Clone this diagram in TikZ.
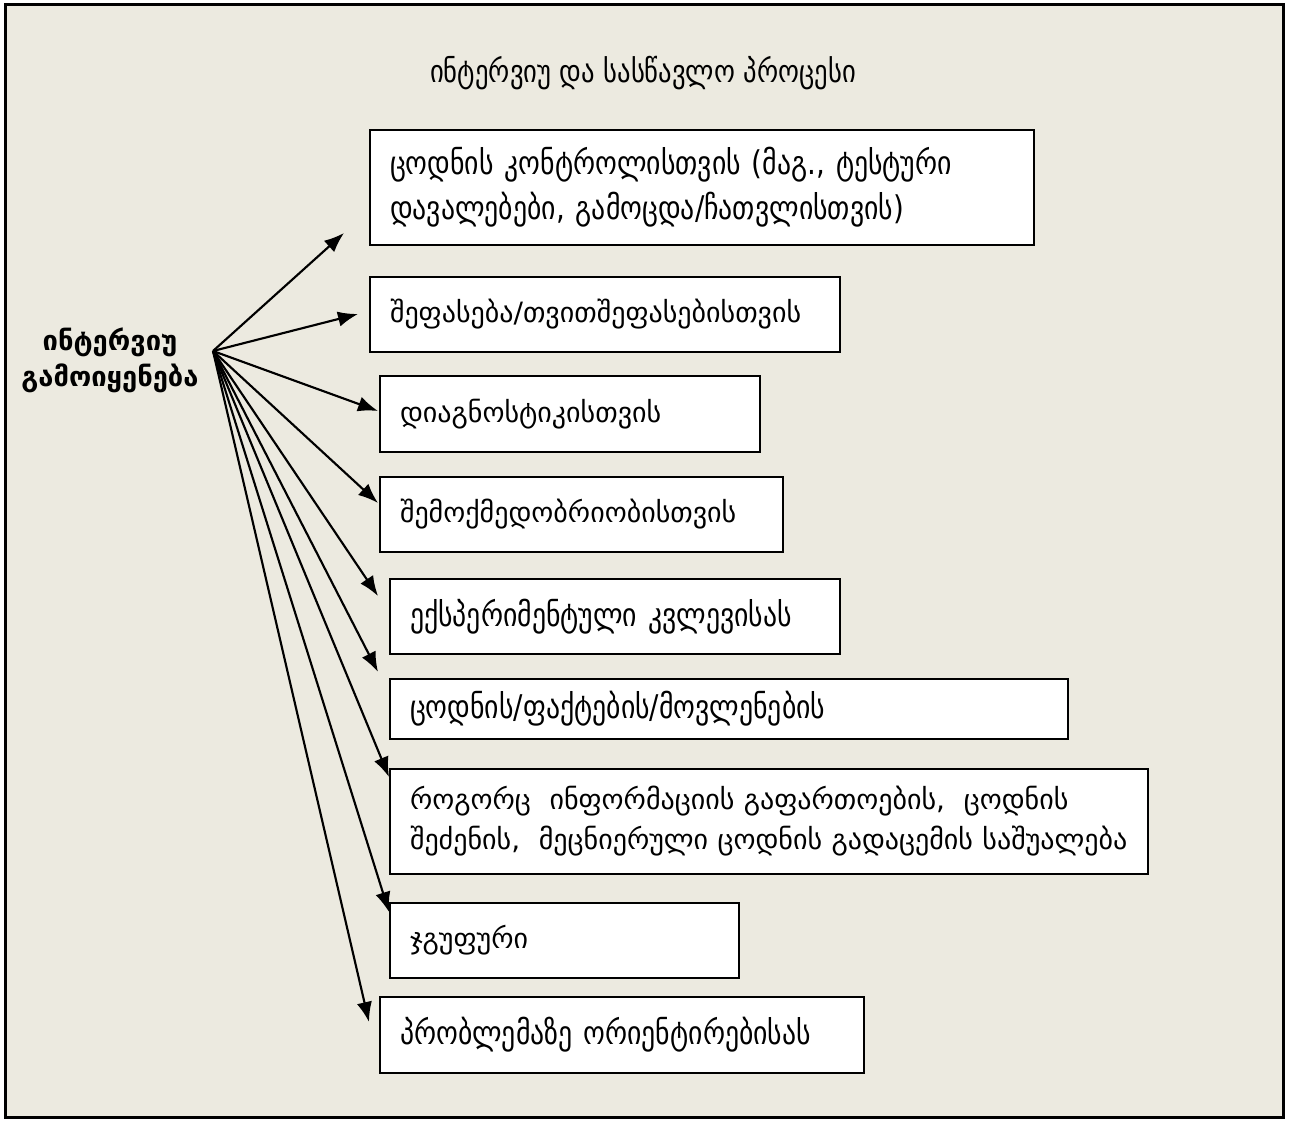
\documentclass[tikz,border=0pt]{standalone}
\usepackage{fontspec}
\newfontfamily\geofont{DejaVu Sans}
\newfontfamily\geonarrow[FakeStretch=0.85]{DejaVu Sans}
\usetikzlibrary{arrows.meta}
\definecolor{paper}{RGB}{236,234,224}
\tikzset{
  itembox/.style={draw, fill=white, line width=1.5pt, anchor=north west,
    inner xsep=15pt, inner ysep=0pt, align=left},
  roundtext/.style={font=\geofont\fontsize{21}{30}\selectfont},
  narrowtext/.style={font=\geonarrow\fontsize{24.5}{34}\selectfont},
  fan/.style={-{Latex[length=15pt,width=11.5pt]}, line width=1.6pt}
}
\begin{document}
\begin{tikzpicture}[x=0.75pt,y=-0.75pt]
    \useasboundingbox (0,0) rectangle (1291,1120);
    \draw[fill=paper, line width=2.25pt] (5,5) rectangle (1283,1117);
    % heading and the left label
    \node[font=\geonarrow\fontsize{23.5}{28}\selectfont] (title) at (643,73) {ინტერვიუ და სასწავლო პროცესი};
    \node[font=\geofont\bfseries\fontsize{20.5}{27}\selectfont, align=center] (uses) at (110,360) {ინტერვიუ\\გამოიყენება};
    \coordinate (hub) at (213,351);
    % the boxes
    \node[itembox, narrowtext, minimum width=498pt, minimum height=86.25pt, text width=468pt] (control) at (369,129)
        {ცოდნის კონტროლისთვის (მაგ., ტესტური\\დავალებები, გამოცდა/ჩათვლისთვის)};
    \node[itembox, roundtext, minimum width=352.5pt, minimum height=56.25pt, text width=322.5pt] (assess) at (369,276)
        {შეფასება/თვითშეფასებისთვის};
    \node[itembox, roundtext, minimum width=285pt, minimum height=57pt, text width=255pt] (diagnose) at (379,375)
        {დიაგნოსტიკისთვის};
    \node[itembox, roundtext, minimum width=302.25pt, minimum height=56.25pt, text width=272.25pt] (create) at (379,476)
        {შემოქმედობრიობისთვის};
    \node[itembox, narrowtext, minimum width=337.5pt, minimum height=56.25pt, text width=307.5pt] (experiment) at (389,578)
        {ექსპერიმენტული კვლევისას};
    \node[itembox, narrowtext, minimum width=508.5pt, minimum height=45pt, text width=478.5pt] (facts) at (389,678)
        {ცოდნის/ფაქტების/მოვლენების};
    \node[itembox, roundtext, minimum width=568.5pt, minimum height=78.75pt, text width=538.5pt] (means) at (389,768)
        {როგორც~ ინფორმაციის გაფართოების,~ ცოდნის\\შეძენის,~ მეცნიერული ცოდნის გადაცემის საშუალება};
    \node[itembox, roundtext, minimum width=261.75pt, minimum height=56.25pt, text width=231.75pt] (group) at (389,902)
        {ჯგუფური};
    \node[itembox, narrowtext, minimum width=363pt, minimum height=57pt, text width=333pt] (problem) at (379,996)
        {პრობლემაზე ორიენტირებისას};
    % arrow tips
    \coordinate (control tip) at (344,233);
    \coordinate (assess tip) at (358,314);
    \coordinate (diagnose tip) at (378,411);
    \coordinate (create tip) at (378,503);
    \coordinate (experiment tip) at (378,596);
    \coordinate (facts tip) at (378,672);
    \coordinate (means tip) at (389,777);
    \coordinate (group tip) at (389,912);
    \coordinate (problem tip) at (369,1022);
    \foreach \n in {control,assess,diagnose,create,experiment,facts,means,group,problem}
        \draw[fan] (hub) -- (\n\space tip);
\end{tikzpicture}
\end{document}
